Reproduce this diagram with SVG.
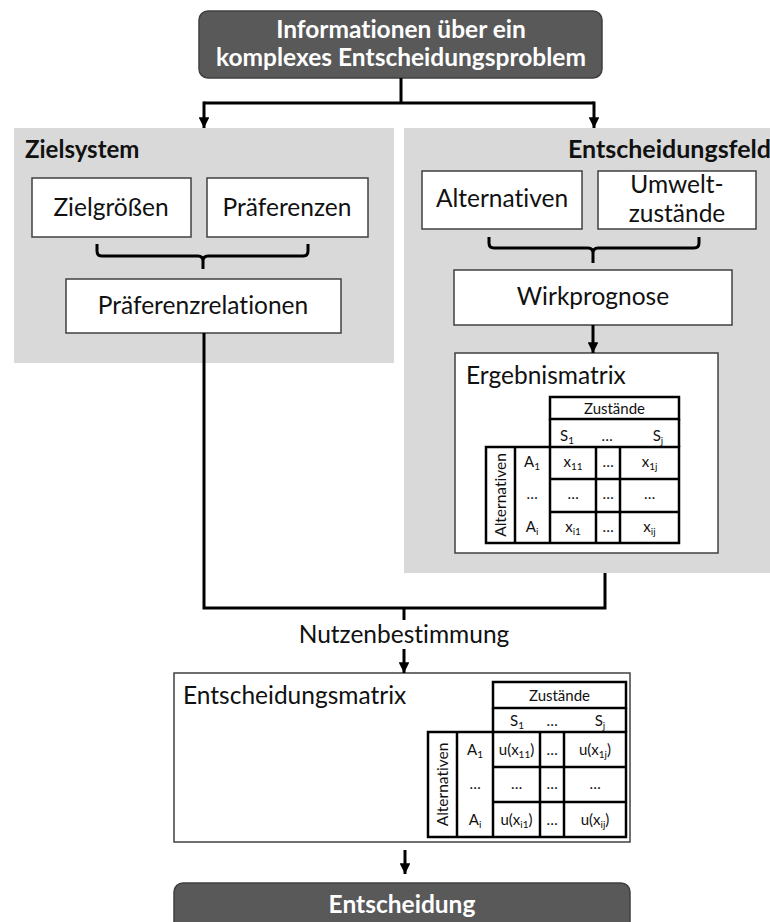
<svg xmlns="http://www.w3.org/2000/svg" width="770" height="922" viewBox="0 0 770 922">
  <defs>
    <marker id="arrow" viewBox="0 0 10 10" refX="10" refY="5" markerWidth="3.6" markerHeight="3.6" orient="auto" markerUnits="strokeWidth">
      <path d="M0,0 L10,5 L0,10 Z" fill="#000"/>
    </marker>
    <style>
      text { font-family: Lato, "Liberation Sans", sans-serif; fill: #111; font-variant-ligatures: none; }
      .dark { fill: #595959; stroke: #3f3f3f; stroke-width: 1.5; }
      .title { font-weight: bold; fill: #fff; font-size: 24.5px; text-anchor: middle; }
      .panel { fill: #d9d9d9; }
      .box { fill: #fff; stroke: #404040; stroke-width: 1.5; }
      .lbl { font-size: 24.5px; text-anchor: middle; }
      .head { font-size: 24px; font-weight: bold; }
      .head-r { font-size: 25px; font-weight: bold; text-anchor: end; }
      .conn { fill: none; stroke: #000; stroke-width: 3; }
      .brace { fill: none; stroke: #000; stroke-width: 3; stroke-linejoin: round; }
      .grid { fill: none; stroke: #000; stroke-width: 2.5; }
      .t { font-size: 15px; text-anchor: middle; }
      .t2 { font-size: 15px; text-anchor: middle; }
      .rot { font-size: 15.5px; text-anchor: middle; }
      .sub { font-size: 10px; }
    </style>
  </defs>

  <!-- start node -->
  <g id="info">
    <rect class="dark" x="199" y="11" width="403" height="67" rx="9"/>
    <text class="title" x="401" y="38">Informationen über ein</text>
    <text class="title" x="401" y="66">komplexes Entscheidungsproblem</text>
  </g>

  <!-- Zielsystem panel -->
  <g id="zielsystem">
    <rect class="panel" x="14" y="128" width="380" height="235"/>
    <text class="head" x="25" y="158">Zielsystem</text>
  </g>
  <g id="zielgroessen">
    <rect class="box" x="32" y="178" width="159" height="59"/>
    <text class="lbl" x="111" y="216">Zielgrößen</text>
  </g>
  <g id="praeferenzen">
    <rect class="box" x="207" y="178" width="161" height="59"/>
    <text class="lbl" x="287" y="216">Präferenzen</text>
  </g>
  <g id="praeferenzrelationen">
    <rect class="box" x="66" y="279" width="275" height="54"/>
    <text class="lbl" x="203" y="314">Präferenzrelationen</text>
  </g>

  <!-- Entscheidungsfeld panel -->
  <g id="entscheidungsfeld">
    <rect class="panel" x="404" y="128" width="366" height="445"/>
    <text class="head-r" x="771" y="158">Entscheidungsfeld</text>
  </g>
  <g id="alternativen">
    <rect class="box" x="422" y="171" width="160" height="58"/>
    <text class="lbl" x="502" y="207">Alternativen</text>
  </g>
  <g id="umweltzustaende">
    <rect class="box" x="598" y="171" width="158" height="58"/>
    <text class="lbl" x="677" y="193">Umwelt-</text>
    <text class="lbl" x="677" y="222">zustände</text>
  </g>
  <g id="wirkprognose">
    <rect class="box" x="454" y="270" width="278" height="55"/>
    <text class="lbl" x="593" y="305">Wirkprognose</text>
  </g>

  <!-- result matrix -->
  <g id="ergebnismatrix">
    <rect class="box" x="455" y="353" width="263" height="200" stroke-width="2"/>
    <text x="466" y="384" font-size="24.5">Ergebnismatrix</text>
    <rect class="grid" x="550" y="397" width="129" height="22"/>
    <path class="grid" d="M550,419 V447 M679,419 V447"/>
    <rect class="grid" x="486" y="447" width="193" height="96"/>
    <path class="grid" d="M515,447 V543 M550,447 V543 M596,447 V543 M620,447 V543 M550,479 H679 M550,512 H679"/>
    <text class="t" x="614.5" y="414">Zustände</text>
    <text class="t2" x="567" y="441">S<tspan class="sub" dy="3">1</tspan></text>
    <text class="t" x="607" y="441">…</text>
    <text class="t2" x="658" y="441">S<tspan class="sub" dy="3">j</tspan></text>
    <text class="rot" transform="translate(506,495) rotate(-90)">Alternativen</text>
    <text class="t2" x="532" y="467">A<tspan class="sub" dy="3">1</tspan></text>
    <text class="t" x="532" y="499">…</text>
    <text class="t2" x="532" y="532">A<tspan class="sub" dy="3">i</tspan></text>
    <text class="t2" x="573" y="467">x<tspan class="sub" dy="3">11</tspan></text>
    <text class="t" x="608" y="467">…</text>
    <text class="t2" x="649.5" y="467">x<tspan class="sub" dy="3">1j</tspan></text>
    <text class="t" x="573" y="499">…</text>
    <text class="t" x="608" y="499">…</text>
    <text class="t" x="649.5" y="499">…</text>
    <text class="t2" x="573" y="532">x<tspan class="sub" dy="3">i1</tspan></text>
    <text class="t" x="608" y="532">…</text>
    <text class="t2" x="649.5" y="532">x<tspan class="sub" dy="3">ij</tspan></text>
  </g>

  <!-- decision matrix -->
  <g id="entscheidungsmatrix">
    <rect class="box" x="174" y="673" width="456" height="169"/>
    <text x="183" y="704" font-size="24.5">Entscheidungsmatrix</text>
    <rect class="grid" x="493" y="682" width="133" height="26"/>
    <path class="grid" d="M493,708 V732 M626,708 V732"/>
    <rect class="grid" x="428" y="732" width="198" height="105"/>
    <path class="grid" d="M457,732 V837 M493,732 V837 M540,732 V837 M564,732 V837 M493,767 H626 M493,802 H626"/>
    <text class="t" x="559.5" y="701">Zustände</text>
    <text class="t2" x="517" y="726">S<tspan class="sub" dy="3">1</tspan></text>
    <text class="t" x="552" y="726">…</text>
    <text class="t2" x="600" y="726">S<tspan class="sub" dy="3">j</tspan></text>
    <text class="rot" transform="translate(448,784.5) rotate(-90)">Alternativen</text>
    <text class="t2" x="475" y="755">A<tspan class="sub" dy="3">1</tspan></text>
    <text class="t" x="475" y="789">…</text>
    <text class="t2" x="475" y="825">A<tspan class="sub" dy="3">i</tspan></text>
    <text class="t2" x="516.5" y="755">u(x<tspan class="sub" dy="3">11</tspan><tspan dy="-3">)</tspan></text>
    <text class="t" x="552" y="755">…</text>
    <text class="t2" x="595" y="755">u(x<tspan class="sub" dy="3">1j</tspan><tspan dy="-3">)</tspan></text>
    <text class="t" x="516.5" y="789">…</text>
    <text class="t" x="552" y="789">…</text>
    <text class="t" x="595" y="789">…</text>
    <text class="t2" x="516.5" y="825">u(x<tspan class="sub" dy="3">i1</tspan><tspan dy="-3">)</tspan></text>
    <text class="t" x="552" y="825">…</text>
    <text class="t2" x="595" y="825">u(x<tspan class="sub" dy="3">ij</tspan><tspan dy="-3">)</tspan></text>
  </g>

  <!-- final node -->
  <g id="entscheidung">
    <rect class="dark" x="174" y="883" width="456" height="60" rx="9"/>
    <text class="title" x="402" y="913">Entscheidung</text>
  </g>

  <!-- connectors -->
  <g id="connectors">
    <path class="conn" d="M401,78 V103 M204,103 H594"/>
    <path class="conn" d="M204,101.5 V128" marker-end="url(#arrow)"/>
    <path class="conn" d="M594,101.5 V128" marker-end="url(#arrow)"/>
    <path class="brace" d="M97,244 V251 Q97,256 102,256 H198 Q203,256 203,261 V269 M203,261 Q203,256 208,256 H303 Q308,256 308,251 V244"/>
    <path class="brace" d="M489,237 V243 Q489,248 494,248 H588 Q593,248 593,253 V263 M593,253 Q593,248 598,248 H694 Q699,248 699,243 V237"/>
    <path class="conn" d="M593,325 V353" marker-end="url(#arrow)"/>
    <path class="conn" d="M204,333 V608 H605 V573"/>
    <path class="conn" d="M404,608 V620"/>
    <path class="conn" d="M404,649 V673" marker-end="url(#arrow)"/>
    <text x="404" y="643" font-size="24.5" text-anchor="middle">Nutzenbestimmung</text>
    <path class="conn" d="M405,850 V874" marker-end="url(#arrow)"/>
  </g>
</svg>
